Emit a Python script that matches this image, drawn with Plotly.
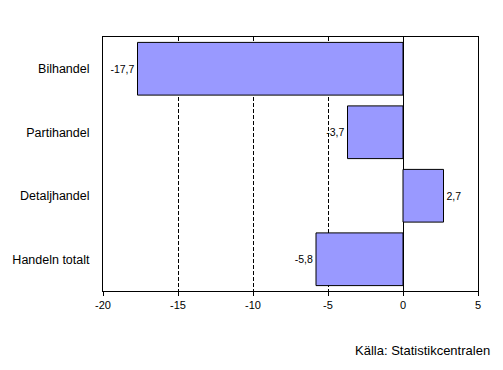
import plotly.graph_objects as go

categories = ["Bilhandel", "Partihandel", "Detaljhandel", "Handeln totalt"]
values = [-17.7, -3.7, 2.7, -5.8]
tick_vals = [-20, -15, -10, -5, 0, 5]
tick_text = ["-20", "-15", "-10", "-5", "0", "5"]
labels = [("%.1f" % v).replace(".", ",") for v in values]

font_family = "Liberation Sans, Arial, sans-serif"

fig = go.Figure()
fig.add_trace(go.Bar(
    y=categories, x=values, orientation="h",
    marker=dict(color="#9999FF", line=dict(color="black", width=1)),
    text=labels, textposition="outside", cliponaxis=False,
    textfont=dict(size=10.5, color="black", family=font_family),
    width=0.83,
))

fig.update_layout(
    width=503, height=370,
    margin=dict(l=99, r=25, t=37, b=79),
    paper_bgcolor="white", plot_bgcolor="white",
    showlegend=False,
    font=dict(family=font_family, size=11, color="black"),
    bargap=0.17,
    xaxis=dict(
        range=[-20, 5], tickvals=tick_vals, ticktext=tick_text,
        showline=True, linecolor="black", linewidth=1, mirror=True,
        ticks="outside", ticklen=4, tickcolor="black",
        showgrid=True, gridcolor="black", gridwidth=1, griddash="4px,2px",
        zeroline=True, zerolinecolor="black", zerolinewidth=1,
        tickfont=dict(size=11),
    ),
    yaxis=dict(
        categoryorder="array", categoryarray=categories, autorange="reversed",
        showline=True, linecolor="black", linewidth=1, mirror=True,
        ticks="", showgrid=False, ticklabelstandoff=10,
        tickfont=dict(size=12.5),
    ),
    annotations=[dict(
        text="Källa: Statistikcentralen", xref="paper", yref="paper",
        x=1.037, y=-0.235, xanchor="right", yanchor="middle", showarrow=False,
        font=dict(size=13, color="black"),
    )],
)

fig.write_html("out.html", config={"displayModeBar": False},
               post_script="document.body.style.margin='0';")
